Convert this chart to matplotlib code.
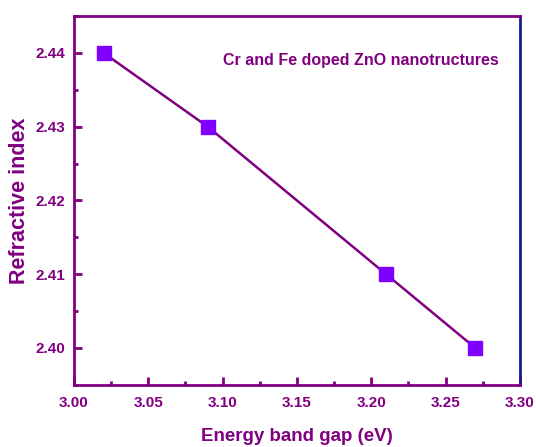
import matplotlib.pyplot as plt
from matplotlib.ticker import MultipleLocator

# band gap vs refractive index
band_gap = [3.02, 3.09, 3.21, 3.27]
refr_index = [2.44, 2.43, 2.41, 2.40]

purple = '#800080'
plt.rcParams['font.family'] = ['Liberation Sans', 'DejaVu Sans']
plt.rcParams['font.weight'] = 'bold'

fig = plt.figure(figsize=(5.36, 4.47), dpi=100)
ax = fig.add_axes([0.138, 0.139, 0.832, 0.825])

ax.plot(band_gap, refr_index, color=purple, lw=1.8, marker='s', ms=10.5,
        mfc='#7f00ff', mec='#7f00ff')

ax.set_xlim(3.0, 3.3)
ax.set_ylim(2.395, 2.445)
ax.xaxis.set_major_locator(MultipleLocator(0.05))
ax.xaxis.set_minor_locator(MultipleLocator(0.025))
ax.yaxis.set_major_locator(MultipleLocator(0.01))
ax.yaxis.set_minor_locator(MultipleLocator(0.005))
ax.xaxis.set_major_formatter(lambda v, p: f'{v:.2f}')
ax.yaxis.set_major_formatter(lambda v, p: f'{v:.2f}')
ax.xaxis.set_ticks_position('bottom')
ax.yaxis.set_ticks_position('left')

for s in ['left', 'bottom', 'top']:
    ax.spines[s].set_color(purple)
    ax.spines[s].set_linewidth(2)
ax.spines['right'].set_color('#1a1a8c')
ax.spines['right'].set_linewidth(2)

ax.tick_params(which='both', direction='in', color=purple, width=2,
               labelcolor=purple, labelsize=11)
ax.tick_params(which='major', length=5.5, pad=6)
ax.tick_params(axis='x', which='major', pad=8)
ax.tick_params(which='minor', length=3)

ax.set_xlabel('Energy band gap (eV)', fontsize=13.5, color=purple,
              fontweight='bold', labelpad=13)
ax.set_ylabel('Refractive index', fontsize=15.5, color=purple,
              fontweight='bold', labelpad=4)

ax.text(0.953, 0.88, 'Cr and Fe doped ZnO nanotructures', transform=ax.transAxes,
        ha='right', va='center', fontsize=11.5, color=purple, fontweight='bold')

fig.savefig('out.png')
